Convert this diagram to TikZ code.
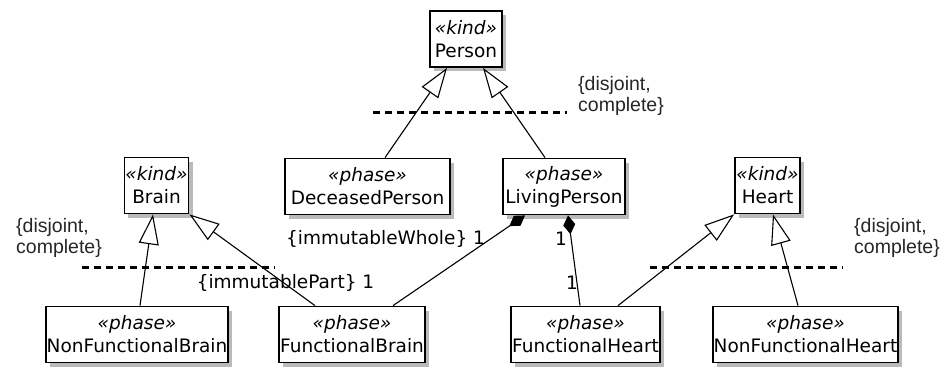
\documentclass[tikz,border=0pt]{standalone}
\usepackage{fontspec}
\setmainfont{DejaVu Sans}
\newfontfamily\notefont{Liberation Sans}
\usetikzlibrary{
  arrows.meta,
  shadows
}

\begin{document}
\begin{tikzpicture}[
  x=1pt, y=-1pt,
  umlclass/.style={
    rectangle,
    draw=black,
    fill=white,
    line width=1.8pt,
    minimum height=56pt,
    inner xsep=1pt,
    inner ysep=2pt,
    align=center,
    drop shadow={opacity=0.6,fill=black!45,shadow xshift=4pt,shadow yshift=-4pt},
    font=\fontsize{18.5}{23}\selectfont
  },
  generalize/.style={
    -{Triangle[open,length=30pt,width=20pt]},
    line width=1.1pt
  },
  composite/.style={
    {Diamond[length=19pt,width=12pt]}-,
    line width=1.1pt
  },
  genset/.style={
    line width=3pt,
    dash pattern=on 7pt off 5pt
  },
  constraint/.style={
    align=left,
    inner sep=0pt,
    text=black!85,
    font=\notefont\fontsize{19.5}{21}\selectfont
  },
  endlabel/.style={
    inner sep=0pt,
    font=\fontsize{18.5}{22}\selectfont
  }
]
\useasboundingbox (0,0) rectangle (952,367);

% ------------------------------------------------------------------
% Kinds
% ------------------------------------------------------------------
\node[umlclass, minimum width=72pt] (person) at (466,39)
  {{\itshape «kind»}\\Person};
\node[umlclass, minimum width=63pt] (brain) at (156.5,185.5)
  {{\itshape «kind»}\\Brain};
\node[umlclass, minimum width=65pt] (heart) at (767.5,185.5)
  {{\itshape «kind»}\\Heart};

% ------------------------------------------------------------------
% Phases
% ------------------------------------------------------------------
\node[umlclass, minimum width=165pt] (deceased) at (367.5,186.5)
  {{\itshape «phase»}\\DeceasedPerson};
\node[umlclass, minimum width=122pt] (living) at (564,186.5)
  {{\itshape «phase»}\\LivingPerson};
\node[umlclass, minimum width=180pt] (nfbrain) at (137,334.5)
  {{\itshape «phase»}\\NonFunctionalBrain};
\node[umlclass, minimum width=144pt] (fbrain) at (352,334.5)
  {{\itshape «phase»}\\FunctionalBrain};
\node[umlclass, minimum width=149pt] (fheart) at (585.5,334.5)
  {{\itshape «phase»}\\FunctionalHeart};
\node[umlclass, minimum width=185pt] (nfheart) at (805.5,334.5)
  {{\itshape «phase»}\\NonFunctionalHeart};

% ------------------------------------------------------------------
% Generalizations
% ------------------------------------------------------------------
\draw[generalize] ([xshift=17.5pt]deceased.north) -- ([xshift=-19pt]person.south);
\draw[generalize] ([xshift=-19pt]living.north) -- ([xshift=17pt]person.south);

\draw[generalize] ([xshift=3pt]nfbrain.north) -- ([xshift=-3.5pt]brain.south);
\draw[generalize] ([xshift=-37pt]fbrain.north) -- (brain.south east);

\draw[generalize] ([xshift=32.5pt]fheart.north) -- (heart.south west);
\draw[generalize] ([xshift=-7.5pt]nfheart.north) -- ([xshift=5.5pt]heart.south);

% generalization sets
\coordinate (gsPersonL) at (373,112);
\coordinate (gsPersonR) at (567,112);
\coordinate (gsBrainL) at (82,267);
\coordinate (gsBrainR) at (275,267);
\coordinate (gsHeartL) at (650,267);
\coordinate (gsHeartR) at (843,267);

\draw[genset] (gsPersonL) -- (gsPersonR);
\draw[genset] (gsBrainL) -- (gsBrainR);
\draw[genset] (gsHeartL) -- (gsHeartR);

\node[constraint, anchor=west] (cPerson) at (578,96) {\{disjoint,\\complete\}};
\node[constraint, anchor=west] (cBrain) at (16,238) {\{disjoint,\\complete\}};
\node[constraint, anchor=west] (cHeart) at (854,238) {\{disjoint,\\complete\}};

% ------------------------------------------------------------------
% Parthood (composition)
% ------------------------------------------------------------------
\draw[composite] ([xshift=-39pt]living.south) -- ([xshift=41pt]fbrain.north);
\draw[composite] ([xshift=4pt]living.south) -- ([xshift=-5.5pt]fheart.north);

\node[endlabel] (whole) at (385.5,239) {\{immutableWhole\} 1};
\node[endlabel] (part) at (285.5,283) {\{immutablePart\} 1};
\node[endlabel] (multLiving) at (561,239) {1};
\node[endlabel] (multHeart) at (572,283) {1};

\end{tikzpicture}
\end{document}
